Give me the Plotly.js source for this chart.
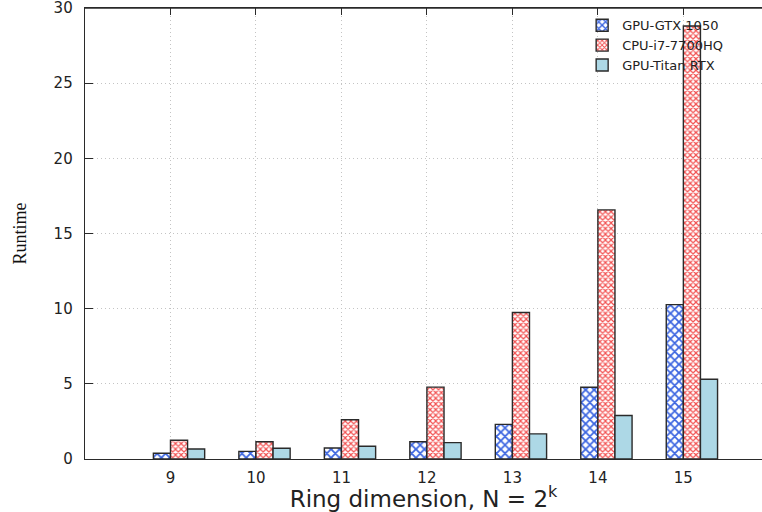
<!DOCTYPE html>
<html>
<head>
<meta charset="utf-8">
<script src="https://cdn.plot.ly/plotly-3.0.1.min.js"></script>
<style>html,body{margin:0;padding:0;background:#fff;}#chart{width:762px;height:512px;}</style>
</head>
<body>
<div id="chart"></div>
<script>
// Ring dimension exponent k (N = 2^k)
const ringK = [9, 10, 11, 12, 13, 14, 15];
const tickLabels = ["9", "10", "11", "12", "13", "14", "15"];
const yTicks = [0, 5, 10, 15, 20, 25, 30];
const seriesNames = ["GPU-GTX 1050", "CPU-i7-7700HQ", "GPU-Titan RTX"];
const gpuGtx1050 = [0.38, 0.51, 0.73, 1.15, 2.3, 4.77, 10.27];
const cpuI7 = [1.25, 1.15, 2.61, 4.78, 9.75, 16.57, 28.8];
const gpuTitanRtx = [0.67, 0.72, 0.85, 1.09, 1.67, 2.89, 5.3];

const lineStyle = {color: '#2a2a2a', width: 1.4};
const traces = [
  {type: 'bar', name: seriesNames[0], x: ringK, y: gpuGtx1050, width: 0.2, offset: -0.2,
   marker: {color: '#ffffff', line: lineStyle,
     pattern: {shape: 'x', fgcolor: '#3a64e0', bgcolor: '#ffffff', size: 6, solidity: 0.5}}},
  {type: 'bar', name: seriesNames[1], x: ringK, y: cpuI7, width: 0.2, offset: 0,
   marker: {color: '#ffffff', line: lineStyle,
     pattern: {shape: 'x', fgcolor: '#f25050', bgcolor: '#ffffff', size: 4, solidity: 0.5}}},
  {type: 'bar', name: seriesNames[2], x: ringK, y: gpuTitanRtx, width: 0.2, offset: 0.2,
   marker: {color: '#add8e6', line: lineStyle}}
];

const gridDash = '1px,3px';
const layout = {
  width: 762, height: 512,
  margin: {l: 85, r: 0, t: 8, b: 53},
  paper_bgcolor: '#ffffff', plot_bgcolor: '#ffffff',
  barmode: 'overlay',
  font: {family: 'DejaVu Sans', size: 15, color: '#222'},
  showlegend: true,
  legend: {x: 0.95, y: 0.995, xanchor: 'right', yanchor: 'top', bgcolor: 'rgba(255,255,255,0)',
           font: {family: 'DejaVu Sans', size: 13, color: '#222'}, tracegroupgap: 0, itemwidth: 30},
  shapes: [
    {type: 'line', xref: 'paper', yref: 'paper', x0: 0, x1: 1, y0: 1, y1: 1,
     line: {color: '#2a2a2a', width: 1.5}, layer: 'above'}
  ],
  xaxis: {
    range: [8, 15.92], tickmode: 'array', tickvals: ringK, ticktext: tickLabels,
    showline: true, linecolor: '#2a2a2a', linewidth: 1.3, mirror: 'allticks',
    ticks: 'inside', ticklen: 7, tickcolor: '#2a2a2a',
    showgrid: true, gridcolor: '#c4c4c4', griddash: gridDash, gridwidth: 1,
    zeroline: false, ticklabelstandoff: 5,
    tickfont: {family: 'DejaVu Sans', size: 15, color: '#222'},
    title: {text: 'Ring dimension, N = 2<sup><span style="color:#222">k</span></sup>',
            font: {family: 'DejaVu Sans', size: 23, color: '#222'}, standoff: 5}
  },
  yaxis: {
    range: [0, 30], tickmode: 'array', tickvals: yTicks,
    showline: true, linecolor: '#2a2a2a', linewidth: 1.3, mirror: false,
    ticks: 'inside', ticklen: 8, tickcolor: '#2a2a2a',
    showgrid: true, gridcolor: '#c4c4c4', griddash: gridDash, gridwidth: 1,
    zeroline: false, ticklabelstandoff: 8, ticklabeloverflow: 'allow',
    tickfont: {family: 'DejaVu Sans', size: 15, color: '#222'},
    title: {text: 'Runtime', font: {family: 'Liberation Serif', size: 18, color: '#111'}, standoff: 22}
  }
};

Plotly.newPlot('chart', traces, layout, {displayModeBar: false, staticPlot: true});
</script>
</body>
</html>
